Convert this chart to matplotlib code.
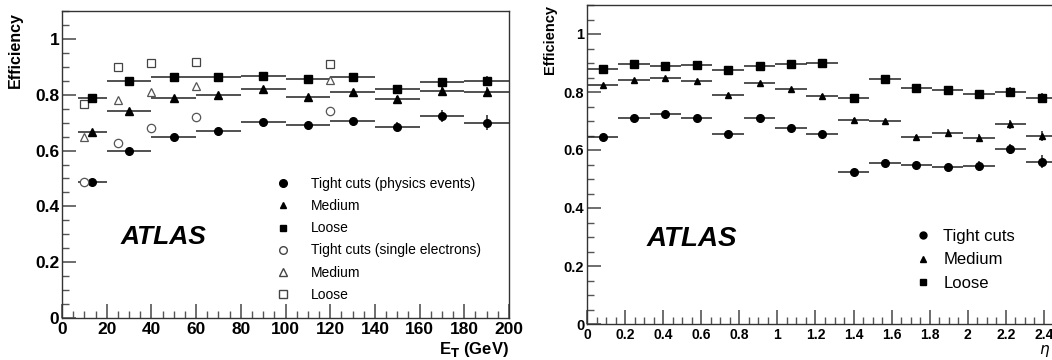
import matplotlib
matplotlib.use("Agg")
import matplotlib.pyplot as plt
from matplotlib.lines import Line2D
from matplotlib.ticker import MultipleLocator, FuncFormatter

plt.rcParams['font.family'] = ['Liberation Sans', 'DejaVu Sans']

# Efficiency vs E_T (physics events, binned)
et_centers = [13.5, 30, 50, 70, 90, 110, 130, 150, 170, 190]
et_halfw = [6.5, 10, 10, 10, 10, 10, 10, 10, 10, 10]
et_tight = [0.487, 0.600, 0.649, 0.669, 0.701, 0.693, 0.705, 0.686, 0.725, 0.700]
et_tight_err = [0.004, 0.004, 0.004, 0.004, 0.005, 0.005, 0.006, 0.015, 0.022, 0.026]
et_medium = [0.665, 0.743, 0.789, 0.800, 0.819, 0.793, 0.811, 0.783, 0.814, 0.811]
et_medium_err = [0.004, 0.004, 0.004, 0.004, 0.005, 0.005, 0.006, 0.012, 0.016, 0.018]
et_loose = [0.788, 0.848, 0.864, 0.863, 0.868, 0.858, 0.862, 0.820, 0.846, 0.848]
et_loose_err = [0.004, 0.004, 0.004, 0.004, 0.005, 0.005, 0.006, 0.010, 0.015, 0.018]

# single electron samples
se_et = [10, 25, 40, 60, 120]
se_tight = [0.487, 0.627, 0.679, 0.720, 0.743]
se_tight_err = [0.004, 0.014, 0.004, 0.004, 0.004]
se_medium = [0.649, 0.782, 0.811, 0.832, 0.852]
se_medium_err = [0.004, 0.010, 0.004, 0.004, 0.004]
se_loose = [0.767, 0.898, 0.915, 0.918, 0.910]

# Efficiency vs eta
eta_centers = [0.082, 0.247, 0.412, 0.576, 0.741, 0.906, 1.071, 1.235,
               1.400, 1.565, 1.729, 1.894, 2.058, 2.223, 2.388]
eta_halfw = 0.0823
eta_tight = [0.644, 0.712, 0.724, 0.712, 0.654, 0.711, 0.676, 0.656,
             0.524, 0.555, 0.547, 0.541, 0.545, 0.602, 0.560]
eta_tight_err = [0.004, 0.004, 0.004, 0.004, 0.004, 0.004, 0.004, 0.005,
                 0.005, 0.007, 0.008, 0.012, 0.016, 0.017, 0.022]
eta_medium = [0.825, 0.842, 0.849, 0.838, 0.791, 0.832, 0.811, 0.787,
              0.705, 0.699, 0.644, 0.660, 0.642, 0.689, 0.649]
eta_medium_err = [0.004, 0.004, 0.004, 0.004, 0.004, 0.004, 0.004, 0.005,
                  0.005, 0.006, 0.008, 0.012, 0.014, 0.016, 0.018]
eta_loose = [0.881, 0.895, 0.891, 0.894, 0.877, 0.888, 0.896, 0.901,
             0.779, 0.845, 0.813, 0.806, 0.793, 0.801, 0.778]
eta_loose_err = [0.004, 0.004, 0.004, 0.004, 0.004, 0.004, 0.004, 0.005,
                 0.005, 0.006, 0.008, 0.010, 0.013, 0.015, 0.017]

frame_col = '#333333'
tick_col = '#555555'


def fmt_num(v, pos):
    s = '%g' % round(v, 3)
    return s


def style_axes(ax, xmaj, xmin, ymaj, ymin, xsize, ysize):
    for side in ['left', 'bottom', 'top', 'right']:
        ax.spines[side].set_color(frame_col)
        ax.spines[side].set_linewidth(1.0)
    ax.xaxis.set_major_locator(MultipleLocator(xmaj))
    ax.xaxis.set_minor_locator(MultipleLocator(xmin))
    ax.yaxis.set_major_locator(MultipleLocator(ymaj))
    ax.yaxis.set_minor_locator(MultipleLocator(ymin))
    ax.xaxis.set_major_formatter(FuncFormatter(fmt_num))
    ax.yaxis.set_major_formatter(FuncFormatter(fmt_num))
    ax.tick_params(which='major', direction='in', length=10, width=1.2, color=tick_col)
    ax.tick_params(which='minor', direction='in', length=5, width=1.0, color=tick_col)
    ax.tick_params(axis='x', which='major', labelsize=xsize, pad=3)
    ax.tick_params(axis='y', which='major', labelsize=ysize, pad=2)
    for lab in ax.get_xticklabels() + ax.get_yticklabels():
        lab.set_fontweight('bold')


fig = plt.figure(figsize=(10.52, 3.60), dpi=100)
W, H = 1052.0, 360.0
ax1 = fig.add_axes([62 / W, 42 / H, 447 / W, 307 / H])
ax2 = fig.add_axes([587 / W, 36 / H, 476 / W, 319 / H])

eb = dict(ls='none', ecolor='#222222', elinewidth=1.1, capsize=0, color='black')

# ---- left: efficiency vs E_T ----
ax1.errorbar(et_centers, et_tight, xerr=et_halfw, yerr=et_tight_err, marker='o', ms=5.5, **eb)
ax1.errorbar(et_centers, et_medium, xerr=et_halfw, yerr=et_medium_err, marker='^', ms=5.5, **eb)
ax1.errorbar(et_centers, et_loose, xerr=et_halfw, yerr=et_loose_err, marker='s', ms=5.5, **eb)
ax1.errorbar(se_et, se_tight, yerr=se_tight_err, marker='o', ms=6, mfc='white', mec='#555555',
             mew=0.9, ls='none', ecolor='#555555', elinewidth=0.9, capsize=0)
ax1.errorbar(se_et, se_medium, yerr=se_medium_err, marker='^', ms=6, mfc='white', mec='#555555',
             mew=0.9, ls='none', ecolor='#555555', elinewidth=0.9, capsize=0)
ax1.plot(se_et, se_loose, marker='s', ms=6, mfc='white', mec='#444444', mew=0.9, ls='none')

ax1.set_xlim(0, 200)
ax1.set_ylim(0, 1.1)
style_axes(ax1, 20, 5, 0.2, 0.05, 12.5, 12.5)
ax1.set_xlabel('E$_\\mathbf{T}$ (GeV)', fontsize=12, fontweight='bold', ha='right')
ax1.xaxis.set_label_coords(1.0, -0.072)
ax1.set_ylabel('Efficiency', fontsize=11.5, fontweight='bold', ha='right')
ax1.yaxis.set_label_coords(-0.087, 0.995)
ax1.text(0.13, 0.265, 'ATLAS', transform=ax1.transAxes, fontsize=19,
         fontweight='bold', fontstyle='italic', va='center')

h1 = [Line2D([], [], ls='none', marker='o', ms=5.5, color='black'),
      Line2D([], [], ls='none', marker='^', ms=5, color='black'),
      Line2D([], [], ls='none', marker='s', ms=5, color='black'),
      Line2D([], [], ls='none', marker='o', ms=5.5, mfc='white', mec='#444444'),
      Line2D([], [], ls='none', marker='^', ms=5.5, mfc='white', mec='#444444'),
      Line2D([], [], ls='none', marker='s', ms=5.5, mfc='white', mec='#444444')]
l1 = ['Tight cuts (physics events)', 'Medium', 'Loose',
      'Tight cuts (single electrons)', 'Medium', 'Loose']
ax1.legend(h1, l1, loc='upper left', bbox_to_anchor=(0.458, 0.49), frameon=False,
           fontsize=10, handlelength=1.0, handletextpad=1.5, labelspacing=0.58,
           borderpad=0.2)

# ---- right: efficiency vs eta ----
ax2.errorbar(eta_centers, eta_tight, xerr=eta_halfw, yerr=eta_tight_err, marker='o', ms=5.5, **eb)
ax2.errorbar(eta_centers, eta_medium, xerr=eta_halfw, yerr=eta_medium_err, marker='^', ms=5, **eb)
ax2.errorbar(eta_centers, eta_loose, xerr=eta_halfw, yerr=eta_loose_err, marker='s', ms=5.5, **eb)

ax2.set_xlim(0, 2.5)
ax2.set_ylim(0, 1.1)
style_axes(ax2, 0.2, 0.05, 0.2, 0.05, 10, 10.5)
ax2.set_xlabel('$\\eta$', fontsize=11, ha='right')
ax2.xaxis.set_label_coords(0.972, -0.06)
ax2.set_ylabel('Efficiency', fontsize=10.5, fontweight='bold', ha='right')
ax2.yaxis.set_label_coords(-0.063, 1.0)
ax2.text(0.125, 0.265, 'ATLAS', transform=ax2.transAxes, fontsize=20,
         fontweight='bold', fontstyle='italic', va='center')

h2 = [Line2D([], [], ls='none', marker='o', ms=5, color='black'),
      Line2D([], [], ls='none', marker='^', ms=4.5, color='black'),
      Line2D([], [], ls='none', marker='s', ms=4.5, color='black')]
l2 = ['Tight cuts', 'Medium', 'Loose']
ax2.legend(h2, l2, loc='upper left', bbox_to_anchor=(0.663, 0.335), frameon=False,
           fontsize=12, handlelength=1.0, handletextpad=0.75, labelspacing=0.52,
           borderpad=0.2)

fig.savefig('out.png', dpi=100, facecolor='white')
